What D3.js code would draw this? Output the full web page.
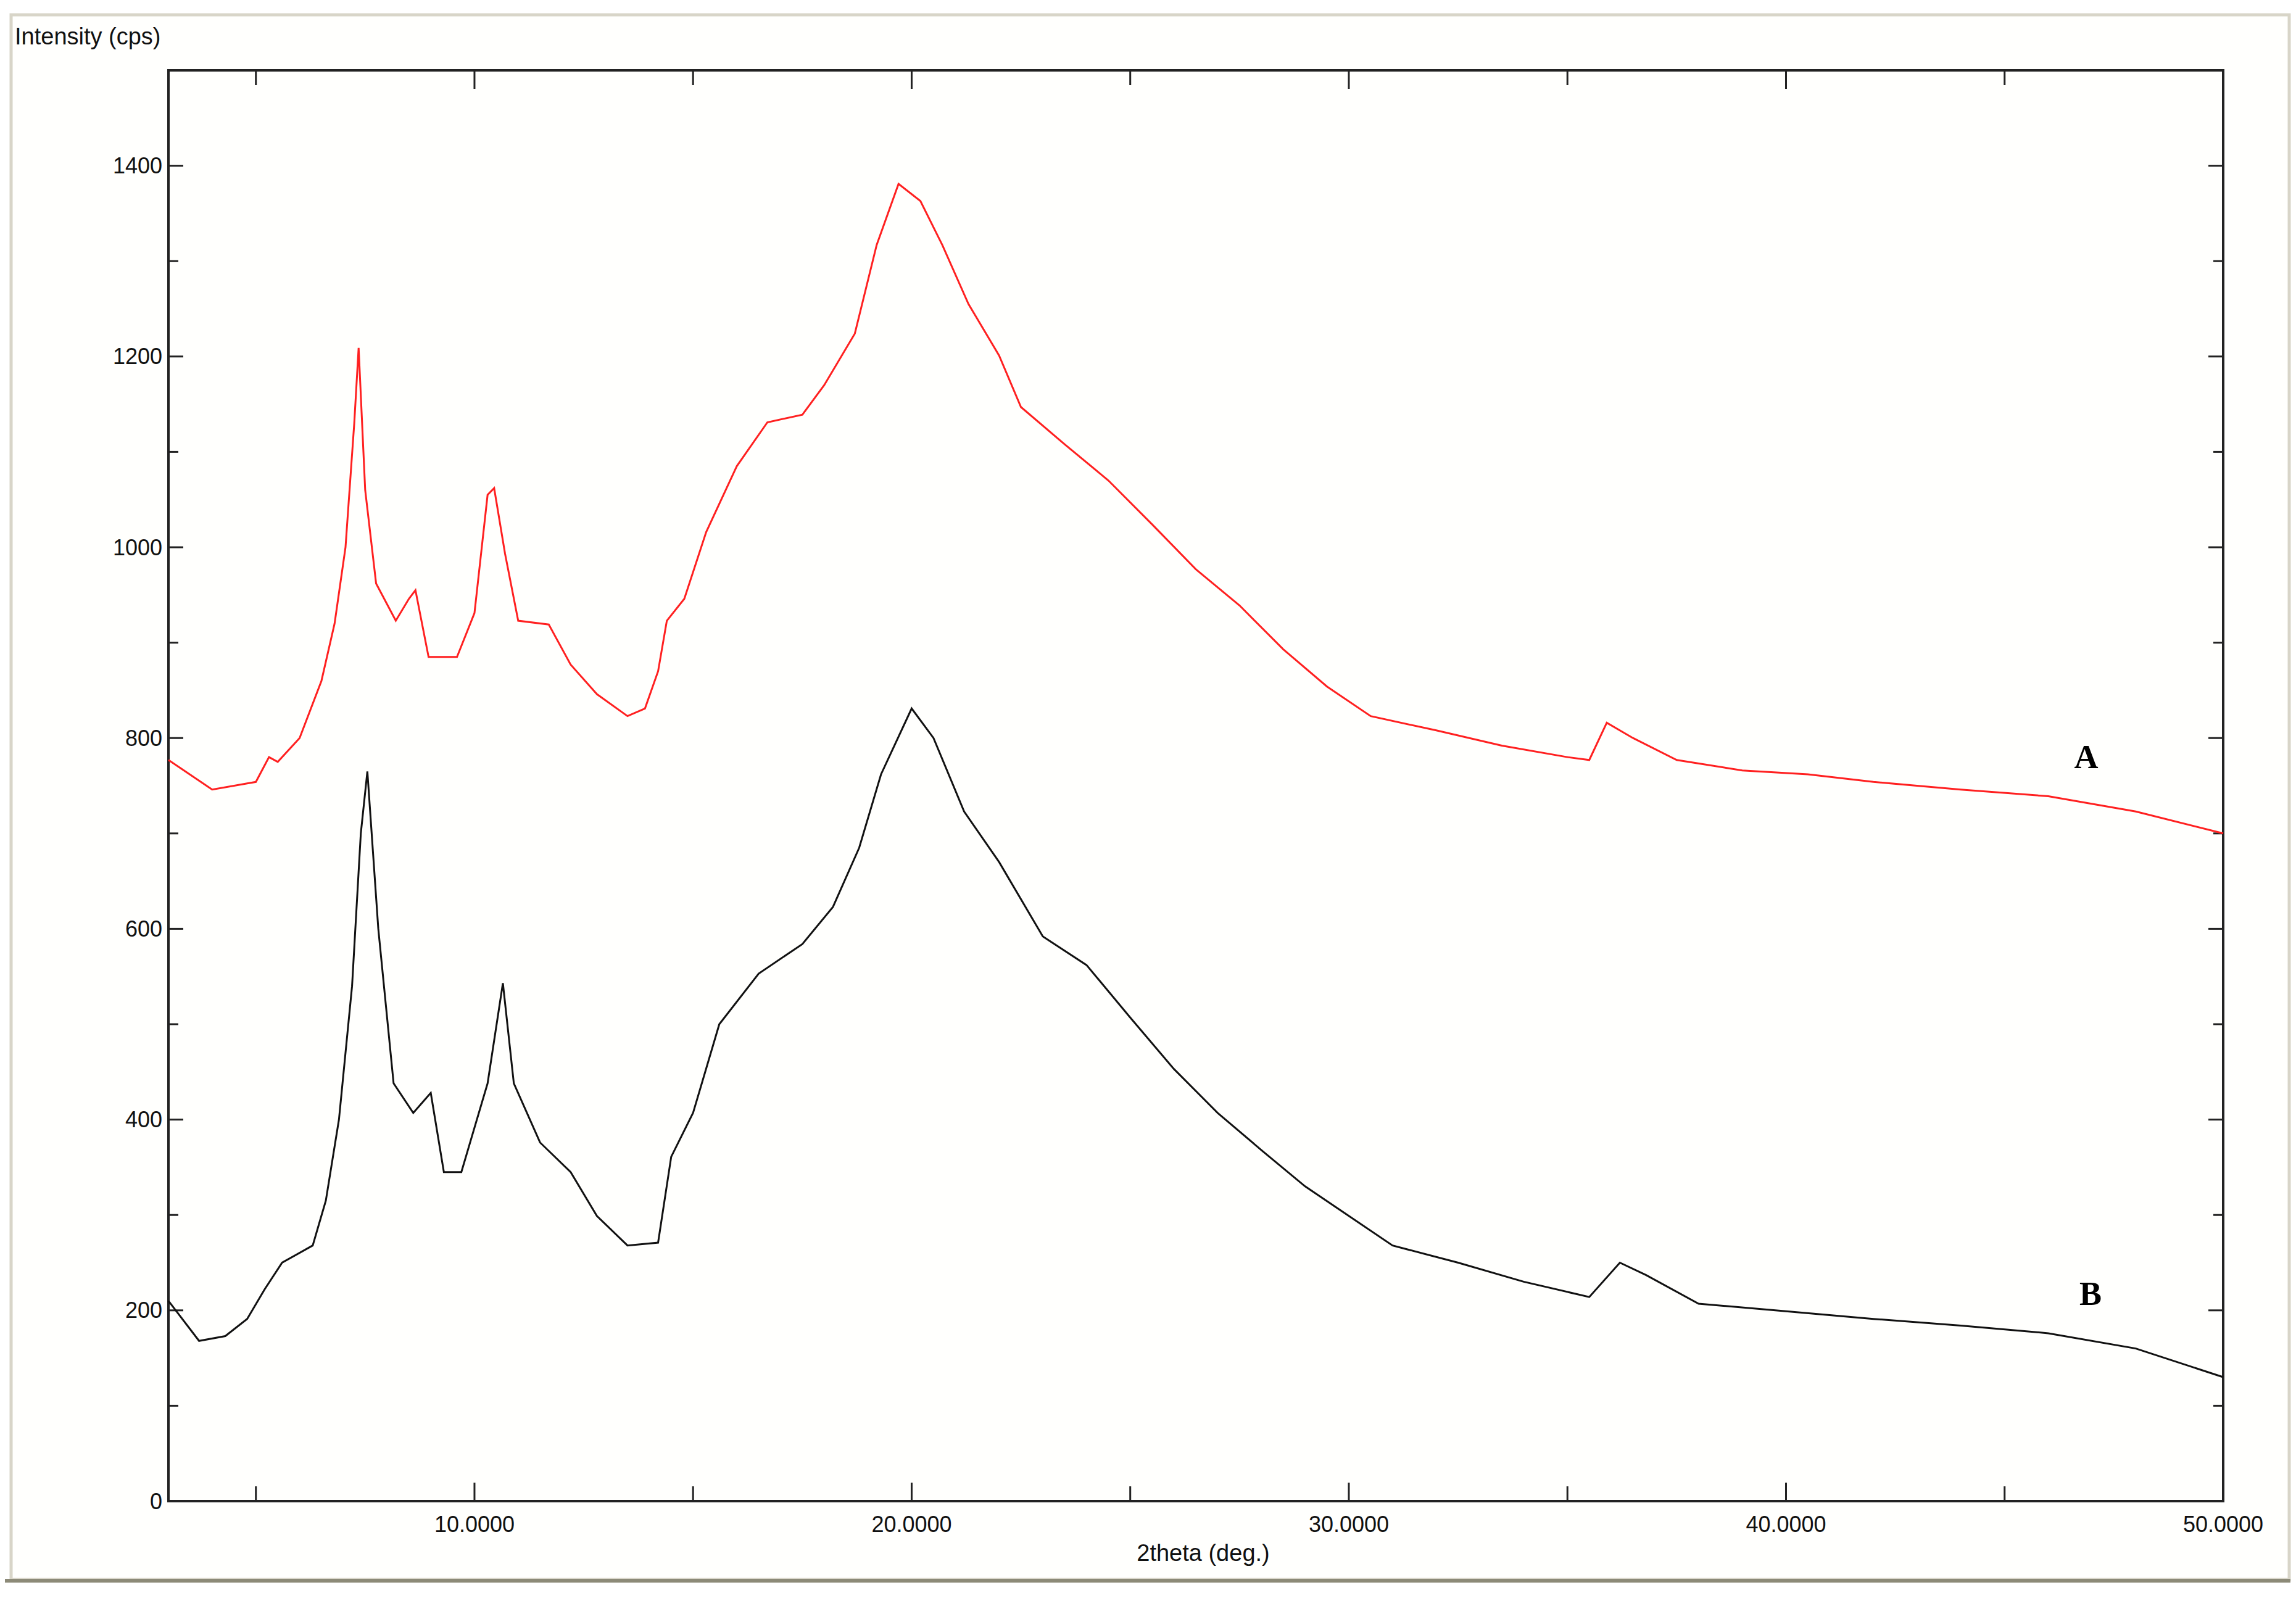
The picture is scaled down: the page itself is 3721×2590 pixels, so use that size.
<!DOCTYPE html>
<html><head><meta charset="utf-8">
<script src="https://cdn.jsdelivr.net/npm/d3@7"></script>
<style>body{margin:0;background:#fff}</style></head>
<body><svg id="c" width="3721" height="2590"></svg>
<script>
const xA=[3,4,5,5.3,5.5,6,6.5,6.8,7.05,7.25,7.35,7.5,7.75,8.2,8.5,8.65,8.95,9.6,10,10.3,10.45,10.7,11,11.7,12.2,12.8,13.5,13.9,14.2,14.4,14.8,15.3,16,16.7,17.5,18,18.7,19.2,19.7,20.2,20.7,21.3,22,22.5,23.5,24.5,25.5,26.5,27.5,28.5,29.5,30.5,32,33.5,35,35.5,35.9,36.5,37.5,39,40.5,42,44,46,48,50];
const yA=[777,746,754,780,775,800,860,920,1000,1130,1209,1060,962,923,946,955,885,885,931,1055,1062,993,923,919,877,846,823,831,870,923,946,1016,1085,1131,1139,1170,1224,1317,1381,1363,1317,1255,1201,1147,1108,1070,1024,977,939,893,854,823,808,792,780,777,816,800,777,766,762,754,746,739,723,700];
const xB=[3,3.7,4.3,4.8,5.2,5.6,6.3,6.6,6.9,7.2,7.4,7.55,7.8,8.15,8.6,9.0,9.3,9.7,10.3,10.65,10.9,11.5,12.2,12.8,13.5,14.2,14.5,15,15.6,16.5,17.5,18.2,18.8,19.3,20,20.5,21.2,22,23,24,25,26,27,28,29,30,31,32.5,34,35.5,36.2,36.8,38,40,42,44,46,48,50];
const yB=[210,168,173,191,222,250,268,315,400,540,700,765,600,438,407,428,345,345,438,543,438,376,345,299,268,271,361,407,500,553,584,623,685,762,831,800,723,670,592,562,507,453,407,368,330,299,268,250,230,214,250,237,207,199,191,184,176,160,130];
const xTicks=[10,20,30,40,50];
const yTicks=[0,200,400,600,800,1000,1200,1400];
const seriesLabels=["A","B"];

const svg=d3.select("#c");
const L=273,R=3603,T=114,B=2433;
const x=d3.scaleLinear().domain([3,50]).range([L,R]);
const y=d3.scaleLinear().domain([0,1500]).range([B,T]);
svg.append("rect").attr("x",0).attr("y",0).attr("width",3721).attr("height",2590).attr("fill","#fff");
svg.append("rect").attr("x",18).attr("y",24).attr("width",3692).attr("height",2536).attr("fill","#fffffd").attr("stroke","#d8d5c8").attr("stroke-width",5);
svg.append("line").attr("x1",8).attr("x2",3712).attr("y1",2562).attr("y2",2562).attr("stroke","#8c8a78").attr("stroke-width",6);
const font="'Liberation Sans', Arial, sans-serif";
svg.append("rect").attr("x",L).attr("y",T).attr("width",R-L).attr("height",B-T).attr("fill","none").attr("stroke","#222").attr("stroke-width",4);
const g=svg.append("g");
d3.range(0,1501,100).forEach(v=>{const len=v%200===0?24:16;
 g.append("line").attr("x1",L).attr("x2",L+len).attr("y1",y(v)).attr("y2",y(v)).attr("stroke","#222").attr("stroke-width",3);
 g.append("line").attr("x1",R).attr("x2",R-len).attr("y1",y(v)).attr("y2",y(v)).attr("stroke","#222").attr("stroke-width",3);});
d3.range(5,50,5).forEach(v=>{const len=v%10===0?30:24;
 g.append("line").attr("x1",x(v)).attr("x2",x(v)).attr("y1",B).attr("y2",B-len).attr("stroke","#222").attr("stroke-width",3);
 g.append("line").attr("x1",x(v)).attr("x2",x(v)).attr("y1",T).attr("y2",T+len).attr("stroke","#222").attr("stroke-width",3);});
yTicks.forEach(v=>g.append("text").attr("x",L-10).attr("y",y(v)).attr("dy","0.35em").attr("text-anchor","end").attr("font-family",font).attr("font-size",36).attr("fill","#111").text(v));
xTicks.forEach(v=>g.append("text").attr("x",x(v)).attr("y",B+50).attr("text-anchor","middle").attr("font-family",font).attr("font-size",36).attr("fill","#111").text(v.toFixed(4)));
svg.append("text").attr("x",24).attr("y",72).attr("font-family",font).attr("font-size",38).attr("fill","#111").text("Intensity (cps)");
svg.append("text").attr("x",1950).attr("y",2530).attr("text-anchor","middle").attr("font-family",font).attr("font-size",38).attr("fill","#111").text("2theta (deg.)");
const line=d3.line().x(d=>x(d[0])).y(d=>y(d[1]));
svg.append("path").attr("d",line(xA.map((v,i)=>[v,yA[i]]))).attr("fill","none").attr("stroke","#ff2020").attr("stroke-width",3);
svg.append("path").attr("d",line(xB.map((v,i)=>[v,yB[i]]))).attr("fill","none").attr("stroke","#111").attr("stroke-width",3);
svg.append("text").attr("x",3381).attr("y",1245).attr("text-anchor","middle").attr("font-family","'Liberation Serif',serif").attr("font-weight","bold").attr("font-size",54).text(seriesLabels[0]);
svg.append("text").attr("x",3388).attr("y",2115).attr("text-anchor","middle").attr("font-family","'Liberation Serif',serif").attr("font-weight","bold").attr("font-size",54).text(seriesLabels[1]);
</script></body></html>
